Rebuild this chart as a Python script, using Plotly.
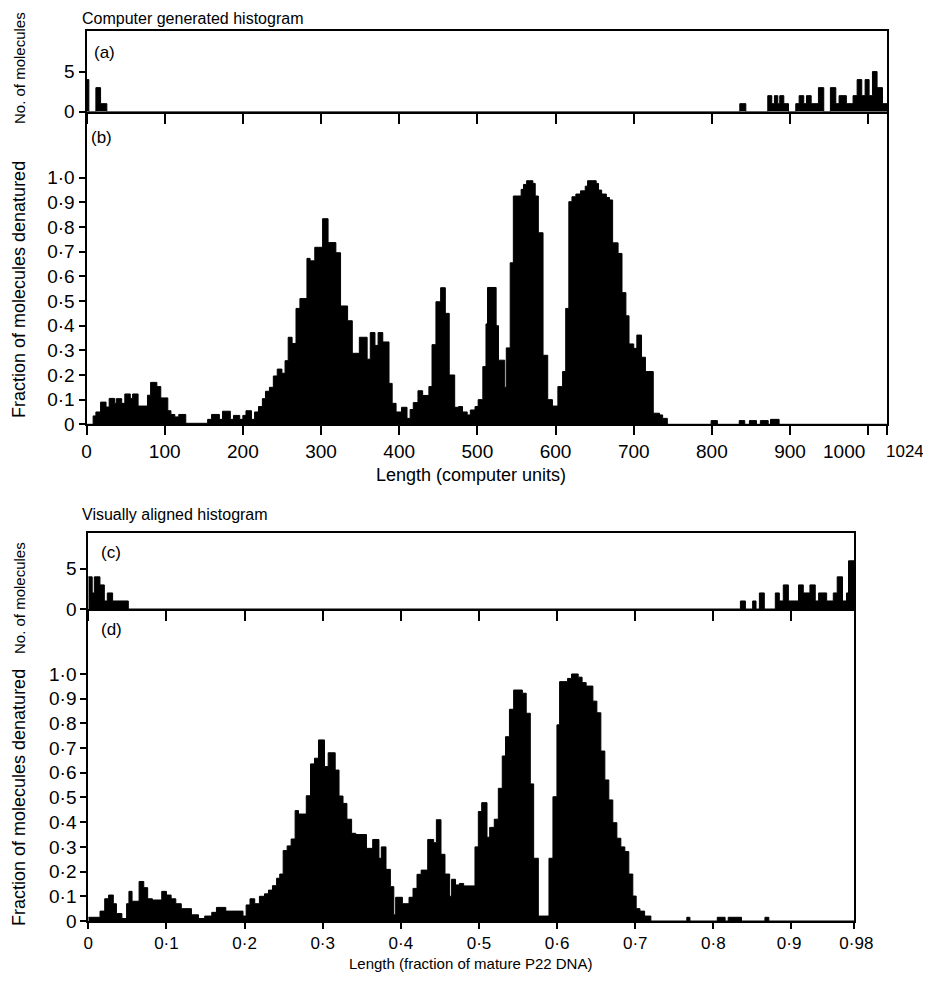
import plotly.graph_objects as go

# ---------------- data ----------------
# (a) computer generated: number of molecules ending at each length (computer units)
a_edges = [0, 3, 12, 18, 26, 835.7, 843.4, 871.5, 876.6, 880, 884.3,
           886.8, 892, 898, 907.3, 911.6, 917.5, 921, 927, 936.3, 943.1,
           951.6, 958.5, 962.7, 972, 980.6, 985.8, 991.7, 996, 1001.1, 1005.4,
           1011.3, 1018.2, 1024]
a_counts = [4, 0, 3, 1, 0, 1, 0, 2, 1, 2,
            1, 2, 1, 0, 1, 2, 1, 2, 1, 3,
            0, 3, 1, 2, 1, 2, 4, 2, 4, 2,
            5, 3, 1]

# (b) computer generated: fraction of molecules denatured
b_edges = [0, 8.5, 12, 18, 25, 29, 36, 38, 45, 49,
           56, 59, 66, 78, 82, 90, 95, 104, 108, 113,
           118, 127, 155, 160, 170, 174, 184, 188, 196, 200,
           204, 211, 215, 220, 225, 229, 234, 239, 244, 250,
           254, 258, 263, 268, 273, 282, 286, 292, 297, 302,
           309, 319, 325, 334, 340, 349, 359, 363, 369, 373,
           379, 387, 391, 396, 403, 410, 414, 418, 424, 430,
           438, 442, 447, 453, 459, 464, 471, 476, 481, 487,
           491, 497, 501, 507, 511, 513, 524, 527, 535, 537,
           542, 546, 556, 559, 563, 571, 574, 578, 584, 590,
           596, 603, 609, 613, 617, 621, 626, 632, 638, 641,
           652, 655, 659, 665, 669, 673, 680, 685, 690, 694,
           700, 704, 710, 715, 725, 733, 737, 743, 799, 807,
           835, 842, 848, 857, 862, 872, 875, 886, 1024]
b_frac = [0, 0.034, 0.05, 0.09, 0.07, 0.105, 0.085, 0.104, 0.085, 0.123,
          0.105, 0.123, 0.074, 0.118, 0.17, 0.153, 0.107, 0.055, 0.04, 0.03,
          0.04, 0.004, 0.02, 0.04, 0.02, 0.053, 0.02, 0.036, 0.02, 0.036,
          0.055, 0.02, 0.05, 0.072, 0.104, 0.134, 0.15, 0.196, 0.224, 0.207,
          0.258, 0.353, 0.328, 0.47, 0.51, 0.673, 0.663, 0.718, 0.718, 0.834,
          0.737, 0.696, 0.48, 0.42, 0.288, 0.353, 0.264, 0.372, 0.32, 0.372,
          0.334, 0.166, 0.085, 0.05, 0.069, 0.024, 0.06, 0.088, 0.136, 0.117,
          0.153, 0.323, 0.497, 0.554, 0.45, 0.2, 0.069, 0.072, 0.05, 0.038,
          0.058, 0.072, 0.1, 0.234, 0.407, 0.555, 0.4, 0.26, 0.15, 0.31,
          0.655, 0.926, 0.953, 0.973, 0.988, 0.977, 0.926, 0.777, 0.28, 0.1,
          0.074, 0.153, 0.214, 0.47, 0.903, 0.923, 0.934, 0.947, 0.966, 0.988,
          0.977, 0.95, 0.934, 0.92, 0.91, 0.736, 0.693, 0.534, 0.44, 0.326,
          0.308, 0.362, 0.272, 0.214, 0.045, 0.038, 0.024, 0, 0.015, 0,
          0.015, 0, 0.015, 0, 0.015, 0, 0.02, 0]

# (c) visually aligned: number of molecules ending at each length (fraction of P22 DNA)
c_edges = [0, 0.005, 0.0077, 0.0149, 0.0205, 0.0243, 0.0311, 0.0512, 0.8346, 0.841,
           0.8503, 0.8546, 0.8589, 0.8652, 0.8793, 0.8844, 0.8895, 0.896, 0.909, 0.9151,
           0.9236, 0.9304, 0.9347, 0.945, 0.9535, 0.9585, 0.9653, 0.9704, 0.973, 0.98]
c_counts = [4, 2, 4, 3, 1, 2, 1, 0, 1, 0,
            1, 0, 2, 0, 2, 1, 3, 1, 3, 2,
            3, 1, 2, 1, 2, 4, 1, 2, 6]

# (d) visually aligned: fraction of molecules denatured
d_edges = [0, 0.015, 0.021, 0.026, 0.032, 0.036, 0.043, 0.049, 0.052, 0.056,
           0.065, 0.071, 0.076, 0.082, 0.094, 0.100, 0.106, 0.112, 0.119, 0.132,
           0.141, 0.149, 0.158, 0.164, 0.176, 0.198, 0.202, 0.207, 0.213, 0.219,
           0.2255, 0.2306, 0.2357, 0.241, 0.245, 0.2494, 0.2545, 0.2596, 0.2647, 0.269,
           0.279, 0.2844, 0.2895, 0.2946, 0.3023, 0.307, 0.316, 0.3209, 0.326, 0.331,
           0.337, 0.3423, 0.356, 0.364, 0.372, 0.375, 0.381, 0.3866, 0.391, 0.3934,
           0.402, 0.4105, 0.4156, 0.4207, 0.426, 0.4344, 0.442, 0.4455, 0.4514, 0.4565,
           0.4625, 0.465, 0.47, 0.475, 0.4804, 0.4949, 0.4992, 0.5035, 0.5103, 0.5137,
           0.5196, 0.5248, 0.5298, 0.534, 0.539, 0.5444, 0.5555, 0.5605, 0.5657, 0.57,
           0.576, 0.5896, 0.5947, 0.5998, 0.6032, 0.6134, 0.6185, 0.627, 0.632, 0.6372,
           0.6458, 0.6509, 0.656, 0.6611, 0.6662, 0.6713, 0.6765, 0.6816, 0.6867, 0.6918,
           0.6969, 0.7012, 0.706, 0.712, 0.72, 0.766, 0.77, 0.805, 0.815, 0.819,
           0.836, 0.866, 0.871, 0.98]
d_frac = [0.015, 0.04, 0.09, 0.105, 0.07, 0.03, 0.01, 0.07, 0.12, 0.08,
          0.16, 0.135, 0.09, 0.085, 0.12, 0.105, 0.09, 0.07, 0.05, 0.025,
          0.01, 0.02, 0.035, 0.055, 0.04, 0.02, 0.065, 0.09, 0.07, 0.1,
          0.11, 0.125, 0.143, 0.173, 0.19, 0.285, 0.304, 0.332, 0.447, 0.433,
          0.507, 0.636, 0.659, 0.733, 0.625, 0.681, 0.611, 0.506, 0.476, 0.412,
          0.355, 0.35, 0.294, 0.33, 0.254, 0.3, 0.209, 0.139, 0.025, 0.096,
          0.07, 0.096, 0.132, 0.189, 0.206, 0.33, 0.317, 0.41, 0.27, 0.19,
          0.1, 0.169, 0.146, 0.152, 0.142, 0.3, 0.443, 0.479, 0.339, 0.379,
          0.412, 0.537, 0.668, 0.746, 0.857, 0.935, 0.922, 0.841, 0.555, 0.254,
          0.02, 0.254, 0.503, 0.794, 0.969, 0.982, 1.0, 0.987, 0.965, 0.951,
          0.89, 0.843, 0.688, 0.571, 0.49, 0.398, 0.335, 0.3, 0.281, 0.19,
          0.101, 0.05, 0.04, 0.02, 0, 0.015, 0, 0.015, 0, 0.015,
          0, 0.015, 0]

# tick labels
NB = "\u00a0"
cu_ticks = [0, 100, 200, 300, 400, 500, 600, 700, 800, 900, 1000, 1024]
cu_labels = ["0", "100", "200", "300", "400", "500", "600", "700", "800", "900", "", ""]
cu_end_labels = ["1000", "1024"]   # drawn beside their ticks, as in the original
fr_ticks = [0, 0.1, 0.2, 0.3, 0.4, 0.5, 0.6, 0.7, 0.8, 0.9, 0.98]
fr_labels = ["0", "0\u00b71", "0\u00b72", "0\u00b73", "0\u00b74", "0\u00b75", "0\u00b76",
             "0\u00b77", "0\u00b78", "0\u00b79" + NB, NB + "0\u00b798"]
frac_ticks = [0, 0.1, 0.2, 0.3, 0.4, 0.5, 0.6, 0.7, 0.8, 0.9, 1.0]
frac_labels = ["0", "0\u00b71", "0\u00b72", "0\u00b73", "0\u00b74", "0\u00b75",
               "0\u00b76", "0\u00b77", "0\u00b78", "0\u00b79", "1\u00b70"]
count_ticks = [0, 5]
count_labels = ["0", "5"]

# ---------------- figure ----------------
# the page body keeps a default 8 px margin on every side; keep the figure inside it
OFF = 8
W, H = 931 - 2 * OFF, 981 - 2 * OFF
FONT = "Liberation Sans, Arial, sans-serif"


def px_x(X):
    return (X - OFF) / W


def px_y(Y):
    return 1 - (Y - OFF) / H


def hist(edges, heights, xa, ya):
    assert len(edges) == len(heights) + 1, (len(edges), len(heights))
    return go.Scatter(x=edges, y=list(heights) + [heights[-1]], xaxis=xa, yaxis=ya,
                      mode="lines", line=dict(shape="hv", color="black", width=1),
                      fill="tozeroy", fillcolor="black",
                      showlegend=False, hoverinfo="skip")


fig = go.Figure()
fig.add_trace(hist(a_edges, a_counts, "x", "y"))
fig.add_trace(hist(b_edges, b_frac, "x2", "y2"))
fig.add_trace(hist(c_edges, c_counts, "x3", "y3"))
fig.add_trace(hist(d_edges, d_frac, "x4", "y4"))

top_dom_x = [px_x(86.5), px_x(887)]
bot_dom_x = [px_x(88.3), px_x(854)]

common = dict(showgrid=False, zeroline=False, showline=True, linecolor="black",
              linewidth=2, ticks="outside", tickcolor="black", tickwidth=1.5,
              tickangle=0, automargin=False, layer="above traces",
              tickfont=dict(family=FONT, size=19, color="black"), fixedrange=True)

fig.update_layout(
    width=W, height=H,
    margin=dict(l=0, r=0, t=0, b=0),
    paper_bgcolor="white", plot_bgcolor="white",
    font=dict(family=FONT, color="black"),
    xaxis=dict(common, domain=top_dom_x, anchor="y", range=[0, 1024],
               tickvals=cu_ticks[:-1], showticklabels=False, ticklen=10, mirror=True),
    yaxis=dict(common, domain=[px_y(111.7), px_y(30.7)], anchor="x", range=[0, 10.1],
               tickvals=count_ticks, ticktext=count_labels, ticklen=6, mirror=True),
    xaxis2=dict(common, domain=top_dom_x, anchor="y2", range=[0, 1024],
                tickvals=cu_ticks, ticktext=cu_labels, ticklen=9),
    yaxis2=dict(common, domain=[px_y(424.3), px_y(111.7)], anchor="x2", range=[0, 1.268],
                tickvals=frac_ticks, ticktext=frac_labels, ticklen=6, mirror=True),
    xaxis3=dict(common, domain=bot_dom_x, anchor="y3", range=[0, 0.98],
                tickvals=fr_ticks[:-1], showticklabels=False, ticklen=10, mirror=True),
    yaxis3=dict(common, domain=[px_y(609), px_y(532.7)], anchor="x3", range=[0, 9.5],
                tickvals=count_ticks, ticktext=count_labels, ticklen=6, mirror=True),
    xaxis4=dict(common, domain=bot_dom_x, anchor="y4", range=[0, 0.98],
                tickvals=fr_ticks, ticktext=fr_labels, ticklen=6,
                tickfont=dict(family=FONT, size=17, color="black")),
    yaxis4=dict(common, domain=[px_y(921), px_y(609)], anchor="x4", range=[0, 1.263],
                tickvals=frac_ticks, ticktext=frac_labels, ticklen=6, mirror=True),
)


def note(text, X, Y, size=18, xanchor="left", angle=0):
    fig.add_annotation(text=text, x=px_x(X), y=px_y(Y), xref="paper", yref="paper",
                       xanchor=xanchor, yanchor="middle", showarrow=False, textangle=angle,
                       font=dict(family=FONT, size=size, color="black"))


# end labels of the computer-unit axis, placed on either side of their ticks
fig.add_annotation(text=cu_end_labels[0], x=cu_ticks[-2], xref="x2", y=px_y(451), yref="paper",
                   xanchor="right", xshift=-1, yanchor="middle", showarrow=False,
                   font=dict(family=FONT, size=19, color="black"))
fig.add_annotation(text=cu_end_labels[1], x=cu_ticks[-1], xref="x2", y=px_y(451), yref="paper",
                   xanchor="left", xshift=-3, yanchor="middle", showarrow=False,
                   font=dict(family=FONT, size=17, color="black"))

note("Computer generated histogram", 80, 18, size=16)
note("Visually aligned histogram", 80, 514, size=16)
note("(a)", 92, 52, size=17)
note("(b)", 89, 137, size=17)
note("(c)", 99, 552, size=17)
note("(d)", 99, 629, size=17)
note("No. of molecules", 19, 68, size=15, xanchor="center", angle=-90)
note("Fraction of molecules denatured", 19, 290, size=18, xanchor="center", angle=-90)
note("No. of molecules", 19, 598, size=15, xanchor="center", angle=-90)
note("Fraction of molecules denatured", 19, 798, size=18, xanchor="center", angle=-90)
note("Length (computer units)", 471, 475, size=18, xanchor="center")
note("Length (fraction of mature P22 DNA)", 470, 963, size=15, xanchor="center")

fig.write_html("out.html")
